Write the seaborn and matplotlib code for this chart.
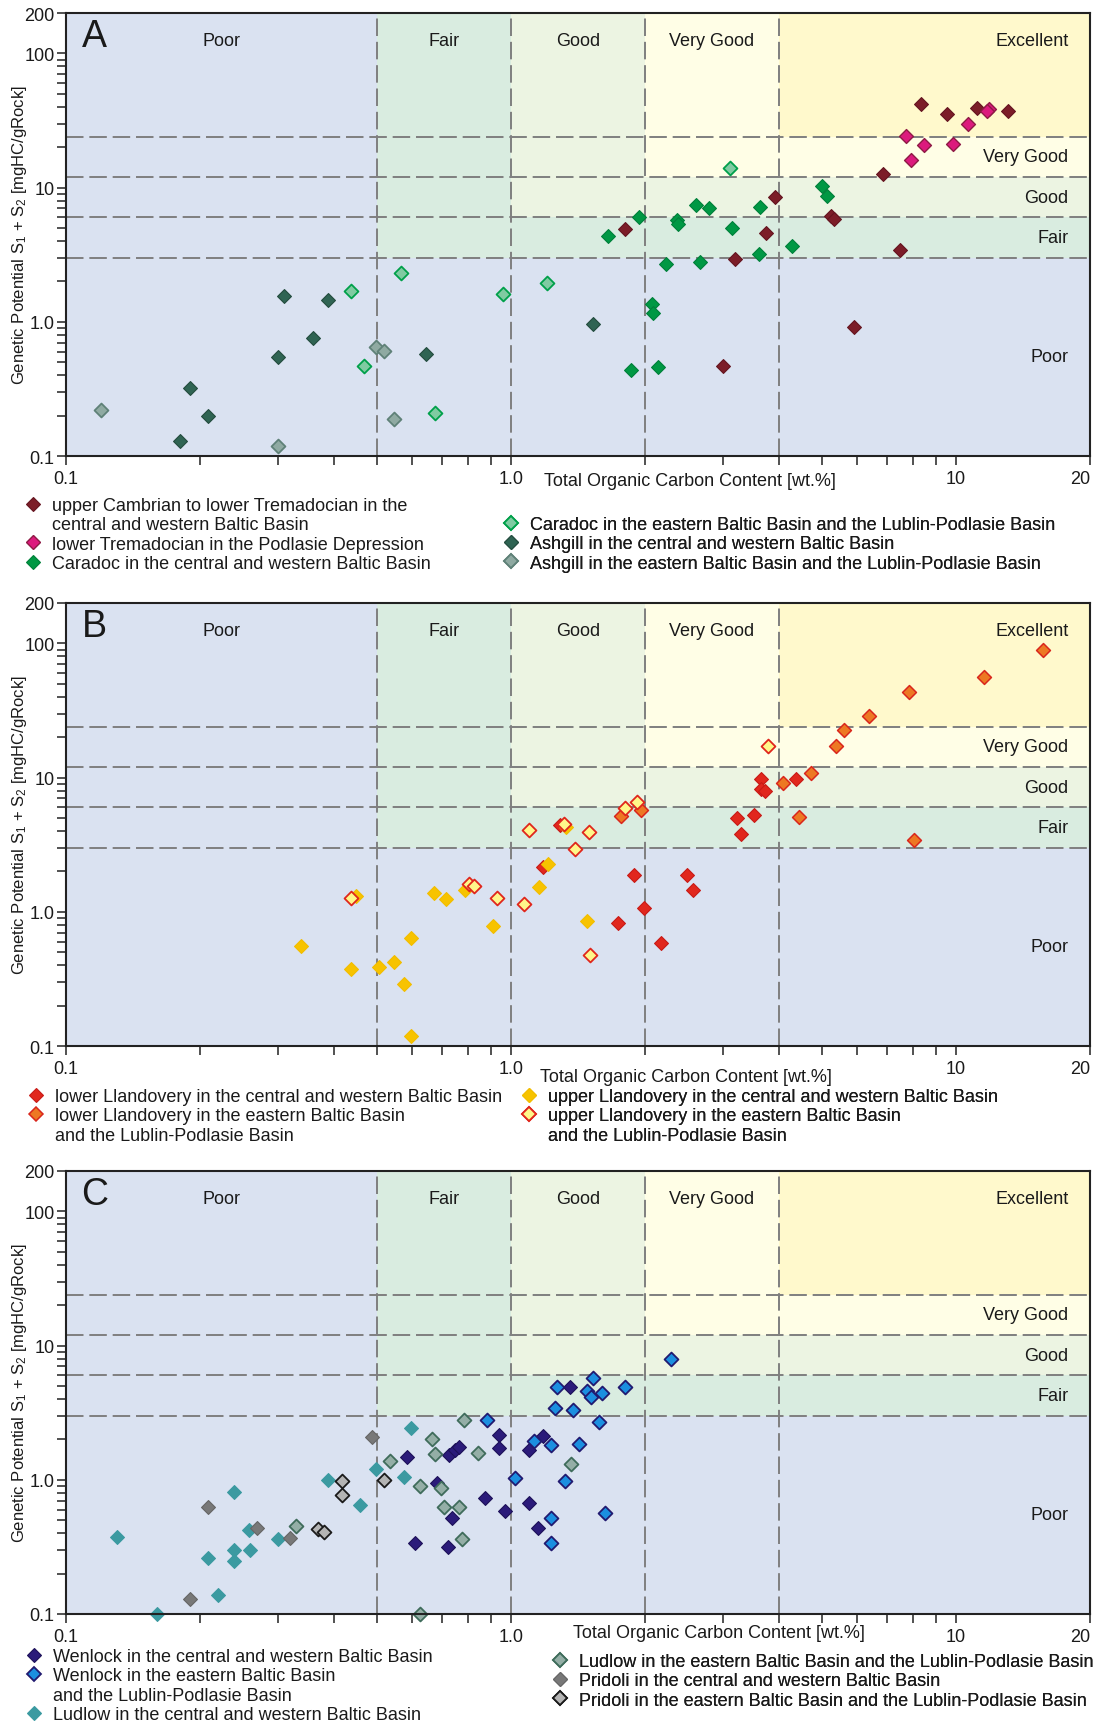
import numpy as np
import matplotlib
matplotlib.use("Agg")
import matplotlib.pyplot as plt
import seaborn as sns
from matplotlib.lines import Line2D
from matplotlib.ticker import FixedLocator, FixedFormatter, LogLocator, NullFormatter

sns.set_style("ticks")
plt.rcParams["font.family"] = ["Liberation Sans", "DejaVu Sans"]
plt.rcParams["mathtext.fontset"] = "custom"
plt.rcParams["mathtext.rm"] = "Liberation Sans"
plt.rcParams["mathtext.default"] = "regular"

# ---------------------------------------------------------------- zones
TOC_LIMITS = [0.5, 1.0, 2.0, 4.0]
GP_LIMITS = [3, 6, 12, 24]
X_RANGE = (0.1, 20)
Y_RANGE = (0.1, 200)
ZONE_NAMES = ["Poor", "Fair", "Good", "Very Good", "Excellent"]
ZONE_COLORS = ["#dae2f1", "#d9ece0", "#ecf4e2", "#fffee6", "#fff9cc"]
X_TICKS = [0.1, 1.0, 10, 20]
X_TICK_LABELS = ["0.1", "1.0", "10", "20"]
Y_TICKS = [0.1, 1.0, 10, 100, 200]
Y_TICK_LABELS = ["0.1", "1.0", "10", "100", "200"]

# ---------------------------------------------------------------- panel A
camb_toc = [1.80, 2.99, 3.19, 3.75, 3.91, 5.24, 5.33, 5.90, 6.87, 7.50, 8.36, 9.53, 11.13, 13.06]
camb_gp = [4.92, 0.47, 2.95, 4.59, 8.55, 6.19, 5.84, 0.92, 12.7, 3.40, 41.8, 35.3, 38.9, 37.0]
trem_toc = [7.70, 7.93, 8.47, 9.83, 10.63, 11.85, 11.75]
trem_gp = [24.2, 16.1, 20.6, 21.2, 29.8, 38.2, 37.0]
carc_toc = [1.65, 1.94, 1.86, 2.07, 2.09, 2.14, 2.23, 2.36, 2.37, 2.60, 2.66, 2.78, 3.14, 3.60, 3.63, 4.28, 5.00, 5.13]
carc_gp = [4.35, 6.06, 0.44, 1.36, 1.17, 0.46, 2.71, 5.71, 5.33, 7.44, 2.77, 7.07, 4.98, 3.20, 7.23, 3.66, 10.2, 8.6]
care_toc = [0.437, 0.467, 0.566, 0.674, 0.961, 1.205, 3.10]
care_gp = [1.70, 0.47, 2.31, 0.21, 1.62, 1.93, 14.1]
ashc_toc = [0.180, 0.190, 0.209, 0.299, 0.309, 0.359, 0.388, 0.644, 1.53]
ashc_gp = [0.129, 0.319, 0.199, 0.548, 1.57, 0.755, 1.46, 0.574, 0.96]
ashe_toc = [0.120, 0.299, 0.497, 0.517, 0.546]
ashe_gp = [0.22, 0.119, 0.651, 0.601, 0.19]

# ---------------------------------------------------------------- panel B
llc_toc = [1.18, 1.29, 1.74, 1.89, 1.99, 2.17, 2.49, 2.57, 3.22, 3.29, 3.51, 3.65, 3.64, 3.72, 4.37]
llc_gp = [2.17, 4.46, 0.82, 1.88, 1.06, 0.59, 1.89, 1.46, 5.04, 3.83, 5.22, 9.74, 8.21, 7.96, 9.81]
lle_toc = [1.77, 1.96, 4.08, 4.44, 4.72, 5.38, 5.60, 6.37, 7.85, 8.05, 11.53, 15.7]
lle_gp = [5.18, 5.74, 9.15, 5.12, 10.8, 17.2, 22.5, 28.7, 43.1, 3.42, 56.5, 89.4]
ulc_toc = [0.338, 0.437, 0.448, 0.506, 0.546, 0.576, 0.596, 0.596, 0.673, 0.713, 0.789, 0.91, 1.157, 1.212, 1.329, 1.483]
ulc_gp = [0.557, 0.378, 1.316, 0.389, 0.419, 0.288, 0.64, 0.119, 1.386, 1.243, 1.45, 0.786, 1.54, 2.29, 4.29, 0.86]
ule_toc = [0.436, 0.804, 0.824, 0.93, 1.069, 1.096, 1.316, 1.396, 1.496, 1.504, 1.805, 1.92, 3.78]
ule_gp = [1.257, 1.62, 1.56, 1.257, 1.147, 4.09, 4.52, 2.95, 3.96, 0.479, 5.94, 6.58, 17.1]

# ---------------------------------------------------------------- panel C
wenc_toc = [0.585, 0.608, 0.681, 0.721, 0.724, 0.737, 0.748, 0.764, 0.873, 0.942, 0.942, 0.970, 1.10, 1.10, 1.151, 1.183, 1.358]
wenc_gp = [1.49, 0.339, 0.95, 0.313, 1.53, 0.517, 1.67, 1.75, 0.726, 2.15, 1.74, 0.584, 0.666, 1.67, 0.438, 2.13, 4.92]
wene_toc = [0.881, 1.02, 1.128, 1.228, 1.228, 1.228, 1.254, 1.266, 1.323, 1.376, 1.425, 1.483, 1.511, 1.527, 1.576, 1.605, 1.626, 1.805, 2.29]
wene_gp = [2.80, 1.035, 1.93, 1.83, 0.521, 0.34, 3.40, 4.95, 0.976, 3.29, 1.86, 4.56, 4.13, 5.69, 2.69, 4.41, 0.568, 4.95, 8.0]
ludc_toc = [0.130, 0.160, 0.209, 0.219, 0.239, 0.239, 0.239, 0.258, 0.259, 0.299, 0.388, 0.457, 0.497, 0.576, 0.596]
ludc_gp = [0.378, 0.100, 0.26, 0.139, 0.809, 0.30, 0.249, 0.419, 0.30, 0.361, 0.989, 0.647, 1.208, 1.047, 2.415]
lude_toc = [0.329, 0.534, 0.626, 0.626, 0.665, 0.676, 0.696, 0.706, 0.764, 0.774, 0.785, 0.842, 1.366]
lude_gp = [0.454, 1.37, 0.902, 0.100, 2.03, 1.56, 0.867, 0.625, 0.632, 0.361, 2.80, 1.59, 1.31]
pric_toc = [0.190, 0.209, 0.269, 0.318, 0.486]
pric_gp = [0.129, 0.632, 0.438, 0.369, 2.10]
prie_toc = [0.368, 0.379, 0.418, 0.418, 0.517]
prie_gp = [0.433, 0.409, 0.983, 0.768, 1.0]

# series: (toc, gp, face, edge, edge width, legend lines)
PANEL_A = [
    (camb_toc, camb_gp, "#7c1d28", "#651520", 0.8,
     ["upper Cambrian to lower Tremadocian in the", "central and western Baltic Basin"]),
    (trem_toc, trem_gp, "#dc1a7d", "#8e1b45", 1.0, ["lower Tremadocian in the Podlasie Depression"]),
    (carc_toc, carc_gp, "#009844", "#00803a", 0.8, ["Caradoc in the central and western Baltic Basin"]),
    (care_toc, care_gp, "#80cba2", "#00a04a", 1.3,
     ["Caradoc in the eastern Baltic Basin and the Lublin-Podlasie Basin"]),
    (ashc_toc, ashc_gp, "#2f6453", "#244c3f", 0.8, ["Ashgill in the central and western Baltic Basin"]),
    (ashe_toc, ashe_gp, "#8faaa2", "#5f8178", 1.3,
     ["Ashgill in the eastern Baltic Basin and the Lublin-Podlasie Basin"]),
]
PANEL_B = [
    (llc_toc, llc_gp, "#e1271d", "#c81b17", 0.8, ["lower Llandovery in the central and western Baltic Basin"]),
    (lle_toc, lle_gp, "#ed7823", "#d9261c", 1.1,
     ["lower Llandovery in the eastern Baltic Basin", "and the Lublin-Podlasie Basin"]),
    (ulc_toc, ulc_gp, "#f7c300", "#f2bd00", 0.8, ["upper Llandovery in the central and western Baltic Basin"]),
    (ule_toc, ule_gp, "#fff78a", "#e0261c", 1.3,
     ["upper Llandovery in the eastern Baltic Basin", "and the Lublin-Podlasie Basin"]),
]
PANEL_C = [
    (wenc_toc, wenc_gp, "#2b1b7a", "#1d1159", 0.8, ["Wenlock in the central and western Baltic Basin"]),
    (wene_toc, wene_gp, "#1b8fe0", "#211a70", 1.3,
     ["Wenlock in the eastern Baltic Basin", "and the Lublin-Podlasie Basin"]),
    (ludc_toc, ludc_gp, "#3b9aa1", "#3b9aa1", 0.8, ["Ludlow in the central and western Baltic Basin"]),
    (lude_toc, lude_gp, "#94aea6", "#3f6c5b", 1.3,
     ["Ludlow in the eastern Baltic Basin and the Lublin-Podlasie Basin"]),
    (pric_toc, pric_gp, "#787878", "#666666", 0.8, ["Pridoli in the central and western Baltic Basin"]),
    (prie_toc, prie_gp, "#b4b4b4", "#1a1a1a", 1.3,
     ["Pridoli in the eastern Baltic Basin and the Lublin-Podlasie Basin"]),
]

W, H = 1096, 1724
AX_L, AX_W, AX_H = 66, 1024, 443
fig = plt.figure(figsize=(W / 100, H / 100), dpi=100)
FS = 13


def fig_x(px):
    return px / W


def fig_y(py):
    return 1 - py / H


def draw_panel(top_px, letter, series, xlabel_pos, legend_cols):
    ax = fig.add_axes([fig_x(AX_L), fig_y(top_px + AX_H), AX_W / W, AX_H / H])
    ax.set_xscale("log")
    ax.set_yscale("log")
    ax.set_xlim(*X_RANGE)
    ax.set_ylim(*Y_RANGE)

    # nested source-rock quality zones
    ax.fill_between(X_RANGE, Y_RANGE[0], Y_RANGE[1], color=ZONE_COLORS[0], lw=0, zorder=0)
    for xl, yl, c in zip(TOC_LIMITS, GP_LIMITS, ZONE_COLORS[1:]):
        ax.fill_between([xl, X_RANGE[1]], yl, Y_RANGE[1], color=c, lw=0, zorder=0)
    for xl in TOC_LIMITS:
        ax.axvline(xl, color="#7f7f7f", lw=1.4, ls=(0, (9, 3)), zorder=1)
    for yl in GP_LIMITS:
        ax.axhline(yl, color="#7f7f7f", lw=1.4, ls=(0, (9, 3)), zorder=1)

    xb = [X_RANGE[0]] + TOC_LIMITS + [X_RANGE[1]]
    yb = [Y_RANGE[0]] + GP_LIMITS + [Y_RANGE[1]]
    for i, name in enumerate(ZONE_NAMES[:4]):
        ax.text(np.sqrt(xb[i] * xb[i + 1]), 125, name, ha="center", va="center",
                fontsize=FS, color="#1a1a1a", zorder=2)
        ax.text(17.9, np.sqrt(yb[i] * yb[i + 1]), name, ha="right", va="center",
                fontsize=FS, color="#1a1a1a", zorder=2)
    ax.text(17.9, 125, ZONE_NAMES[4], ha="right", va="center", fontsize=FS,
            color="#1a1a1a", zorder=2)
    ax.text(0.028, 0.948, letter, transform=ax.transAxes, ha="center", va="center",
            fontsize=27, color="#1a1a1a", zorder=2)

    for toc, gp, face, edge, lw, _ in series:
        sns.scatterplot(x=toc, y=gp, ax=ax, marker="D", s=50, color=face,
                        edgecolor=edge, linewidth=lw, zorder=3, clip_on=False,
                        legend=False)

    # axes, ticks and labels
    ax.xaxis.set_major_locator(FixedLocator(X_TICKS))
    ax.xaxis.set_major_formatter(FixedFormatter(X_TICK_LABELS))
    ax.xaxis.set_minor_locator(LogLocator(base=10, subs=np.arange(2, 10)))
    ax.xaxis.set_minor_formatter(NullFormatter())
    ax.yaxis.set_major_locator(FixedLocator(Y_TICKS))
    ax.yaxis.set_major_formatter(FixedFormatter(Y_TICK_LABELS))
    ax.yaxis.set_minor_locator(LogLocator(base=10, subs=np.arange(2, 10)))
    ax.yaxis.set_minor_formatter(NullFormatter())
    ax.tick_params(which="both", direction="out", length=6.3, width=1.1,
                   color="#222222", labelsize=FS, labelcolor="#1a1a1a")
    ax.tick_params(axis="x", which="both", pad=3.5)
    ax.tick_params(axis="y", which="both", pad=2)
    for tick, val in zip(ax.xaxis.get_major_ticks(), X_TICKS):
        if val == X_RANGE[1]:
            tick.label1.set_horizontalalignment("right")
    for sp in ax.spines.values():
        sp.set_linewidth(1.5)
        sp.set_color("#222222")
        sp.set_zorder(4)

    ax.set_xlabel("Total Organic Carbon Content [wt.%]", fontsize=FS, ha="left",
                  va="center", color="#1a1a1a")
    ax.xaxis.set_label_coords((xlabel_pos[0] - AX_L) / AX_W,
                              (top_px + AX_H - xlabel_pos[1]) / AX_H)
    ax.set_ylabel("Genetic Potential S$_1$ + S$_2$ [mgHC/gRock]", fontsize=12,
                  va="center", color="#1a1a1a")
    ax.yaxis.set_label_coords((20 - AX_L) / AX_W, 0.5)

    # legend, two columns placed below the panel
    for idxs, (mx, my) in legend_cols:
        handles, labels = [], []
        for i in idxs:
            toc, gp, face, edge, lw, lines = series[i]
            handles.append(Line2D([], [], ls="none", marker="D", markersize=7,
                                  markerfacecolor=face, markeredgecolor=edge,
                                  markeredgewidth=lw))
            labels.append(lines[0])
            for extra in lines[1:]:
                handles.append(Line2D([], [], ls="none", marker=None))
                labels.append(extra)
        leg = ax.legend(handles, labels, loc="upper left",
                        bbox_to_anchor=(fig_x(mx - 9), fig_y(my - 10)),
                        bbox_transform=fig.transFigure, frameon=False,
                        borderpad=0, borderaxespad=0, handlelength=1.0,
                        handletextpad=0.55, labelspacing=0.13, fontsize=FS)
        for t in leg.get_texts():
            t.set_color("#1a1a1a")
        ax.add_artist(leg)
    return ax


draw_panel(14, "A", PANEL_A, (544, 482),
           [([0, 1, 2], (33, 508)), ([3, 4, 5], (511, 527))])
draw_panel(604, "B", PANEL_B, (540, 1077),
           [([0, 1], (36, 1099)), ([2, 3], (529, 1099))])
draw_panel(1172, "C", PANEL_C, (573, 1634),
           [([0, 1, 2], (34, 1659)), ([3, 4, 5], (560, 1664))])

fig.savefig("out.png", dpi=100)
